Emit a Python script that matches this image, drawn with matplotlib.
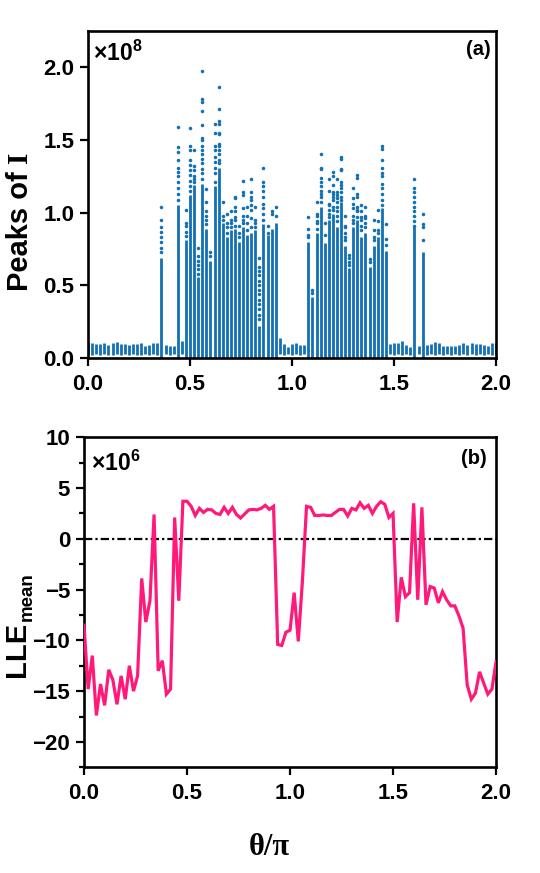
import numpy as np
import matplotlib
matplotlib.use("Agg")
import matplotlib.pyplot as plt
from matplotlib.ticker import MultipleLocator
from matplotlib.transforms import offset_copy

plt.rcParams['font.family'] = ['Liberation Sans', 'DejaVu Sans']
plt.rcParams['font.weight'] = 'bold'
plt.rcParams['mathtext.fontset'] = 'custom'
plt.rcParams['mathtext.rm'] = 'Liberation Sans:bold'
plt.rcParams['mathtext.bf'] = 'Liberation Sans:bold'
plt.rcParams['mathtext.it'] = 'Liberation Sans:bold'
plt.rcParams['lines.scale_dashes'] = False

# ---------------- data ----------------
theta = np.linspace(0.0, 2.0, 101)   # theta / pi sweep

# top panel: dense part of each column of peaks (x1e8)
peak_dense_top = [
    0.110, 0.107, 0.100, 0.100, 0.107, 0.090, 0.107, 0.114, 0.100, 0.100,   # 0.00-0.18
    0.090, 0.095, 0.100, 0.107, 0.084, 0.090, 0.103, 0.103,                 # 0.20-0.34
    0.69, 0.091, 0.084, 0.084, 1.05, 0.12, 0.81, 1.12, 1.19, 0.56,         # 0.36-0.54
    1.20, 0.89, 0.67, 1.18, 1.31, 0.93, 0.83, 0.88, 0.89, 0.80,            # 0.56-0.74
    0.90, 0.85, 0.86, 0.88, 0.22, 0.92, 0.85, 0.89, 0.93, 0.137,           # 0.76-0.94
    0.098, 0.080, 0.100, 0.103, 0.091, 0.091, 0.80, 0.42, 0.86, 1.04,      # 0.96-1.14
    0.79, 0.95, 0.99, 0.90, 1.07, 0.77, 0.62, 0.90, 0.95, 0.83,            # 1.16-1.34
    0.86, 0.63, 0.77, 0.83, 1.03, 0.74, 0.095, 0.103, 0.107, 0.119,        # 1.36-1.54
    0.091, 0.080, 0.90, 0.084, 0.73, 0.091, 0.098, 0.115, 0.103, 0.084,    # 1.56-1.74
    0.084, 0.084, 0.084, 0.091, 0.103, 0.091, 0.103, 0.098, 0.098, 0.091,  # 1.76-1.94
    0.084, 0.103, 0.103,                                                   # 1.96-2.00
]
peak_low = [
    0.030, 0.025, 0.030, 0.020, 0.030, 0.025, 0.020, 0.030, 0.025, 0.030,
    0.020, 0.030, 0.025, 0.020, 0.030, 0.025, 0.030, 0.025,
    0.005, 0.030, 0.025, 0.030, 0.005, 0.030, 0.005, 0.005, 0.005, 0.005,
    0.005, 0.005, 0.005, 0.005, 0.005, 0.005, 0.005, 0.005, 0.005, 0.005,
    0.005, 0.005, 0.005, 0.005, 0.005, 0.005, 0.005, 0.005, 0.005, 0.030,
    0.025, 0.030, 0.020, 0.030, 0.025, 0.030, 0.005, 0.005, 0.005, 0.005,
    0.005, 0.005, 0.005, 0.005, 0.005, 0.005, 0.005, 0.005, 0.005, 0.005,
    0.005, 0.005, 0.005, 0.005, 0.005, 0.005, 0.030, 0.025, 0.030, 0.020,
    0.030, 0.025, 0.005, 0.030, 0.005, 0.025, 0.030, 0.020, 0.030, 0.025,
    0.030, 0.020, 0.030, 0.025, 0.030, 0.020, 0.030, 0.025, 0.030, 0.020,
    0.030, 0.025, 0.030,
]
# sparse peaks above the dense part (x1e8)
sparse_peaks = {
    0.36: [1.04, 0.95, 0.90, 0.87, 0.83, 0.80, 0.76, 0.73],
    0.44: [1.59, 1.45, 1.42, 1.36, 1.31, 1.28, 1.25, 1.21, 1.17, 1.13, 1.09],
    0.48: [1.02, 0.93, 0.91, 0.87, 0.84],
    0.50: [1.58, 1.46, 1.43, 1.36, 1.33, 1.29, 1.26, 1.22, 1.18, 1.15],
    0.52: [1.43, 1.32, 1.29, 1.25, 1.23, 1.21],
    0.54: [0.76, 0.70, 0.67, 0.64, 0.61, 0.58],
    0.56: [1.97, 1.78, 1.76, 1.70, 1.60, 1.51, 1.50, 1.46, 1.43, 1.40, 1.37, 1.34, 1.30, 1.27, 1.23],
    0.58: [1.16, 1.07, 1.01, 0.98, 0.95, 0.92],
    0.60: [0.73, 0.70],
    0.62: [1.61, 1.55, 1.46, 1.43, 1.38, 1.35, 1.31, 1.27, 1.21],
    0.64: [1.86, 1.71, 1.63, 1.61, 1.55, 1.54, 1.47, 1.46, 1.43, 1.40, 1.36, 1.34],
    0.66: [1.07, 0.98, 0.95],
    0.68: [0.99, 0.93, 0.90, 0.86],
    0.70: [1.01, 0.95, 0.93, 0.90],
    0.72: [1.11, 1.10, 1.04, 1.01, 0.97, 0.95, 0.91],
    0.74: [0.91, 0.86, 0.83],
    0.76: [1.22, 1.14, 1.12, 1.03, 0.98, 0.95, 0.93],
    0.78: [1.04, 0.98, 0.93, 0.88],
    0.80: [1.23, 1.14, 1.11, 1.09, 1.05, 1.02, 0.96, 0.90],
    0.82: [1.04, 0.95, 0.93, 0.90],
    0.84: [0.69, 0.63, 0.60, 0.57, 0.53, 0.50, 0.47, 0.44, 0.40, 0.37, 0.34, 0.30, 0.27],
    0.86: [1.31, 1.21, 1.18, 1.15, 1.11, 1.06, 1.03, 0.99, 0.95],
    0.88: [0.91, 0.86],
    0.90: [1.01, 0.99],
    0.92: [1.04, 0.98],
    1.08: [0.97, 0.89, 0.85, 0.83],
    1.10: [0.47, 0.45],
    1.12: [1.07, 0.99, 0.98, 0.94, 0.93, 0.89],
    1.14: [1.40, 1.31, 1.30, 1.24, 1.21, 1.18, 1.15, 1.13, 1.11, 1.07],
    1.16: [0.93, 0.85],
    1.18: [1.23, 1.15, 1.06, 1.05, 1.02, 0.99, 0.97],
    1.20: [1.28, 1.25, 1.19, 1.14, 1.13, 1.11, 1.09, 1.04, 1.02],
    1.22: [1.23, 1.14, 1.12, 1.10, 1.07, 1.04, 1.01, 0.98, 0.94],
    1.24: [1.38, 1.37, 1.30, 1.29, 1.21, 1.19, 1.17, 1.14, 1.11, 1.09],
    1.26: [0.98, 0.91, 0.90, 0.86, 0.83, 0.81],
    1.28: [0.71, 0.69, 0.66, 0.64],
    1.30: [1.17, 1.10, 1.06, 1.03, 0.98, 0.95, 0.93],
    1.32: [1.26, 1.24, 1.13, 1.11, 1.04, 1.02, 1.01, 0.97],
    1.34: [1.05, 1.01, 0.97, 0.95, 0.91, 0.88],
    1.36: [1.04, 0.98, 0.96, 0.93, 0.90],
    1.38: [0.68, 0.66],
    1.40: [0.95, 0.88, 0.83, 0.81],
    1.42: [1.02, 0.94, 0.88, 0.86],
    1.44: [1.46, 1.44, 1.36, 1.31, 1.27, 1.25, 1.20, 1.17, 1.13, 1.09, 1.05],
    1.46: [0.92, 0.82, 0.78],
    1.60: [1.23, 1.17, 1.14, 1.11, 1.07, 1.04, 1.01, 0.98, 0.94, 0.91],
    1.64: [0.99, 0.92, 0.90, 0.81],
}

# bottom panel: mean largest Lyapunov exponent (x1e6)
lle_mean = [
    -8.5, -14.8, -11.5, -17.4, -14.3, -16.4, -12.9, -13.9, -16.3, -13.5,   # 0.00-0.18
    -15.8, -12.5, -15.0, -13.5, -3.9, -8.2, -6.1, 2.4, -13.0, -12.0,       # 0.20-0.38
    -15.3, -14.8, 2.1, -6.1, 3.7, 3.7, 3.2, 2.3, 3.0, 2.6,                 # 0.40-0.58
    2.9, 2.85, 2.5, 2.4, 3.1, 2.5, 3.1, 2.4, 2.05, 2.45,                   # 0.60-0.78
    2.85, 2.9, 2.85, 3.0, 3.3, 2.9, 3.2, -10.4, -10.5, -9.2,               # 0.80-0.98
    -9.0, -5.3, -10.1, -4.2, 3.2, 3.1, 2.3, 2.3, 2.35, 2.3,                # 1.00-1.18
    2.3, 2.6, 2.9, 2.9, 2.25, 3.0, 2.85, 3.55, 3.0, 3.3,                   # 1.20-1.38
    2.5, 3.2, 3.65, 3.4, 2.1, 2.5, -8.2, -3.8, -5.7, -5.3,                 # 1.40-1.58
    3.5, -6.0, 3.1, -6.5, -4.7, -4.85, -6.3, -5.2, -6.0, -6.6,             # 1.60-1.78
    -6.6, -7.6, -8.8, -14.4, -15.8, -15.2, -13.1, -14.2, -15.3, -14.8,     # 1.80-1.98
    -12.1,                                                                 # 2.00
]

BLUE = '#1270b6'
PINK = '#ff1a7a'
DPI = 100

fig = plt.figure(figsize=(5.4, 8.73), dpi=DPI)
ax1 = fig.add_axes([0.163, 0.5896, 0.7556, 0.3753])
ax2 = fig.add_axes([0.1556, 0.1211, 0.763, 0.378])

# ---------- top panel ----------
ax1.vlines(theta, peak_low, peak_dense_top, colors=BLUE, linewidth=2.0, capstyle='butt')
sx, sy = [], []
for t, vals in sparse_peaks.items():
    sx.extend([t] * len(vals))
    sy.extend(vals)
ax1.scatter(sx, sy, s=6.5, color=BLUE, linewidths=0, zorder=3)
ax1.set_xlim(0, 2.0)
ax1.set_ylim(0, 2.25)
ax1.xaxis.set_major_locator(MultipleLocator(0.5))
ax1.yaxis.set_major_locator(MultipleLocator(0.5))
ax1.xaxis.set_major_formatter(plt.FormatStrFormatter('%.1f'))
ax1.yaxis.set_major_formatter(plt.FormatStrFormatter('%.1f'))
ax1.text(0.011, 0.968, r'$\mathbf{×10^{8}}$', transform=ax1.transAxes,
         fontsize=16.5, ha='left', va='top')
ax1.text(0.986, 0.97, '(a)', transform=ax1.transAxes, fontsize=14.5,
         fontweight='bold', ha='right', va='top')

# ---------- bottom panel ----------
ax2.plot(theta, lle_mean, color=PINK, linewidth=2.3, solid_joinstyle='miter', zorder=3)
ax2.axhline(0, color='black', linewidth=1.6, linestyle=(0, (6, 2.2, 1.6, 2.2)), zorder=2)
ax2.set_xlim(0, 2.0)
ax2.set_ylim(-22.5, 10)
ax2.xaxis.set_major_locator(MultipleLocator(0.5))
ax2.xaxis.set_major_formatter(plt.FormatStrFormatter('%.1f'))
ax2.yaxis.set_major_locator(MultipleLocator(5))
ax2.yaxis.set_minor_locator(MultipleLocator(2.5))
ax2.set_xlabel('θ/π', fontsize=22, fontweight='bold', family=['Liberation Serif', 'DejaVu Serif'])
ax2.xaxis.set_label_coords(0.45, -0.2)
ax2.text(0.017, 0.958, r'$\mathbf{×10^{6}}$', transform=ax2.transAxes,
         fontsize=16.5, ha='left', va='top')
ax2.text(0.977, 0.965, '(b)', transform=ax2.transAxes, fontsize=14.5,
         fontweight='bold', ha='right', va='top')

for ax in (ax1, ax2):
    for sp in ax.spines.values():
        sp.set_linewidth(1.9)
    ax.tick_params(axis='both', which='major', direction='out', length=6, width=1.6,
                   labelsize=16, pad=4)
    ax.tick_params(axis='both', which='minor', direction='out', length=3.5, width=1.6)
    ax.tick_params(axis='x', which='major', pad=5)
    for lab in ax.get_xticklabels() + ax.get_yticklabels():
        lab.set_fontweight('bold')

# ---------- y labels built from rotated pieces (pixel positions) ----------
renderer = fig.canvas.get_renderer()
H = fig.get_figheight() * DPI


def fig_xy(px, py):
    return px / (fig.get_figwidth() * DPI), (H - py) / H


def rotated_piece(px, py, s, size, family):
    x, y = fig_xy(px, py)
    t = fig.text(x, y, s, fontsize=size, fontweight='bold', family=family,
                 rotation=90, rotation_mode='anchor', ha='left', va='baseline')
    ext = t.get_window_extent(renderer)
    return t, ext.height


# "Peaks of I" : sans-serif words, serif capital I
base_x, start_y = 27.5, 291.0
_, h1 = rotated_piece(base_x, start_y, 'Peaks of ', 21, ['Liberation Sans', 'DejaVu Sans'])
rotated_piece(base_x, start_y - h1, 'I', 21, ['Liberation Serif', 'DejaVu Serif'])

# "LLE" with subscript "mean"
lx, ly = 25.0, 677.0
_, h2 = rotated_piece(lx, ly, 'LLE', 21, ['Liberation Sans', 'DejaVu Sans'])
rotated_piece(lx + 6.5, ly - h2 - 1, 'mean', 13.5, ['Liberation Sans', 'DejaVu Sans'])

fig.savefig('out.png', dpi=DPI)
